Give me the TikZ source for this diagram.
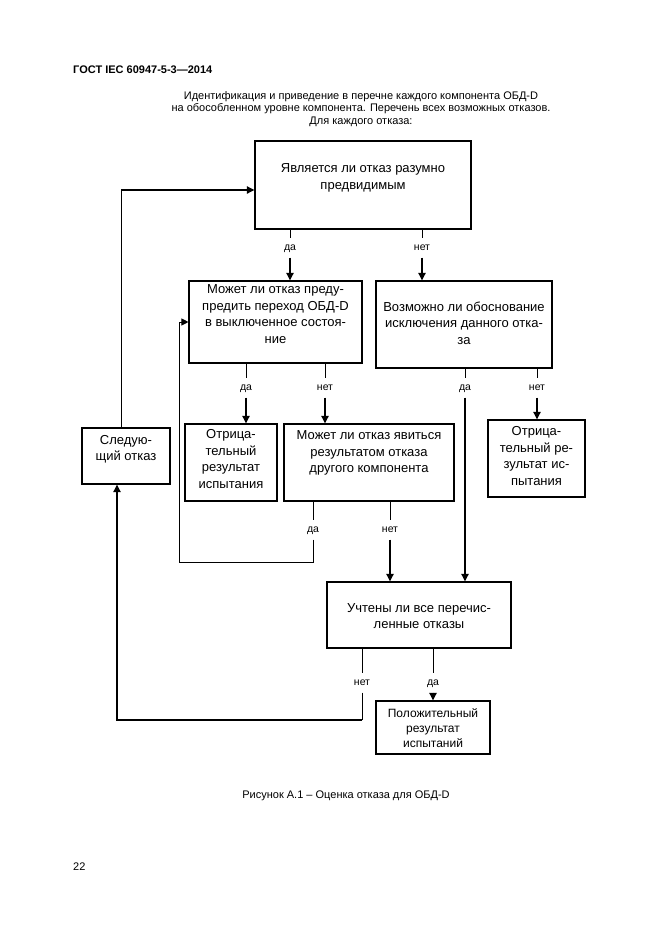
\documentclass[tikz,border=0pt]{standalone}
\usepackage{fontspec}
\setmainfont{Liberation Sans}
\usetikzlibrary{arrows.meta}
\begin{document}
\begin{tikzpicture}[x=1pt,y=-1pt,
  box/.style={draw, line width=1.1pt, inner sep=0pt},
  btxt/.style={font=\fontsize{13}{16.5}\selectfont, align=center, inner sep=0pt},
  lbl/.style={font=\fontsize{10.5}{12}\selectfont, text height=6pt, text depth=2pt, inner xsep=1pt, inner ysep=5.5pt},
  thinl/.style={line width=0.9pt},
  thickl/.style={line width=2pt},
  arr/.style={thickl, -{Triangle[length=7.5pt,width=7pt]}},
  tarr/.style={thinl, -{Triangle[length=7pt,width=7pt]}},
  plain/.style={font=\fontsize{11}{12.5}\selectfont, inner sep=0pt}
]
\fill[white] (0,0) rectangle (661,935);
\useasboundingbox (0,0) rectangle (661,935);

% header texts
\node[plain, font=\bfseries\fontsize{11}{13}\selectfont, anchor=west] (hdr) at (73,70) {ГОСТ IEC 60947-5-3—2014};
\node[plain, align=center] (intro) at (361,109) {Идентификация и приведение в перечне каждого компонента ОБД-D\\на обособленном уровне компонента. Перечень всех возможных отказов.\\Для каждого отказа:};

% boxes
\node[box, minimum width=216pt, minimum height=88pt] (b1) at (363,185) {};
\node[btxt] (t1) at (363,178) {Является ли отказ разумно\\предвидимым};

\node[box, minimum width=173pt, minimum height=82pt] (b2) at (275.5,322) {};
\node[btxt] (t2) at (275.5,314) {Может ли отказ преду-\\предить переход ОБД-D\\в выключенное состоя-\\ние};

\node[box, minimum width=176pt, minimum height=87pt] (b3) at (464,324.5) {};
\node[btxt] (t3) at (464,323) {Возможно ли обоснование\\исключения данного отка-\\за};

\node[box, minimum width=88pt, minimum height=56pt] (nx) at (126,456) {};
\node[btxt] (tnx) at (126,449) {Следую-\\щий отказ};

\node[box, minimum width=92pt, minimum height=77pt] (ng1) at (231,462.5) {};
\node[btxt] (tng1) at (231,459) {Отрица-\\тельный\\результат\\испытания};

\node[box, minimum width=170pt, minimum height=77pt] (q4) at (369,462.5) {};
\node[btxt] (tq4) at (369,453) {Может ли отказ явиться\\результатом отказа\\другого компонента};

\node[box, minimum width=97pt, minimum height=77pt] (ng2) at (536.5,458.5) {};
\node[btxt] (tng2) at (536.5,456) {Отрица-\\тельный ре-\\зультат ис-\\пытания};

\node[box, minimum width=184pt, minimum height=66pt] (q5) at (419,615) {};
\node[btxt] (tq5) at (419,616) {Учтены ли все перечис-\\ленные отказы};

\node[box, minimum width=114pt, minimum height=53pt] (pos) at (433,727.5) {};
\node[btxt, font=\fontsize{12}{15}\selectfont] (tpos) at (433,728) {Положительный\\результат\\испытаний};

% labels
\node[lbl] (l1) at (290,248) {да};
\node[lbl] (l2) at (422,248) {нет};
\node[lbl] (l3) at (246,388) {да};
\node[lbl] (l4) at (325,388) {нет};
\node[lbl] (l5) at (465,388) {да};
\node[lbl] (l6) at (537,388) {нет};
\node[lbl] (l7) at (313,530) {да};
\node[lbl] (l8) at (390,530) {нет};
\node[lbl] (l9) at (362,683) {нет};
\node[lbl] (l10) at (433,683) {да};

% connectors from b1
\draw[thinl] (b1.south -| l1) -- (l1.north);
\draw[arr] (l1.south) -- (l1.south |- b2.north);
\draw[thinl] (b1.south -| l2) -- (l2.north);
\draw[arr] (l2.south) -- (l2.south |- b3.north);

% from b2
\draw[thinl] (b2.south -| l3) -- (l3.north);
\draw[arr] (l3.south) -- (l3.south |- ng1.north);
\draw[thinl] (b2.south -| l4) -- (l4.north);
\draw[arr] (l4.south) -- (l4.south |- q4.north);

% from b3
\draw[thinl] (b3.south -| l5) -- (l5.north);
\draw[arr] (l5.south) -- (l5.south |- q5.north);
\draw[thinl] (b3.south -| l6) -- (l6.north);
\draw[arr] (l6.south) -- (l6.south |- ng2.north);

% from q4
\coordinate (c1) at (179,562);
\draw[thinl] (q4.south -| l7) -- (l7.north);
\draw[tarr] (l7.south) |- (c1) |- (b2.west);
\draw[thinl] (q4.south -| l8) -- (l8.north);
\draw[arr] (l8.south) -- (l8.south |- q5.north);

% from q5
\coordinate (c2) at (117,720);
\draw[thinl] (q5.south -| l9) -- (l9.north);
\draw[thinl] (l9.south) -- (l9.south |- c2);
\draw[arr] (l9.south |- c2) -- (c2) -- (c2 |- nx.south);
\draw[thinl] (q5.south -| l10) -- (l10.north);
\draw[arr] (l10.south) -- (l10.south |- pos.north);

% next failure loop
\coordinate (c3) at (121,190);
\draw[thinl] (nx.north -| c3) -- (c3);
\draw[arr] (c3) -- (c3 -| b1.west);

% caption and page number
\node[plain] (cap) at (346,796) {Рисунок А.1 – Оценка отказа для ОБД-D};
\node[plain, anchor=west] (pg) at (73,867) {22};
\end{tikzpicture}
\end{document}
